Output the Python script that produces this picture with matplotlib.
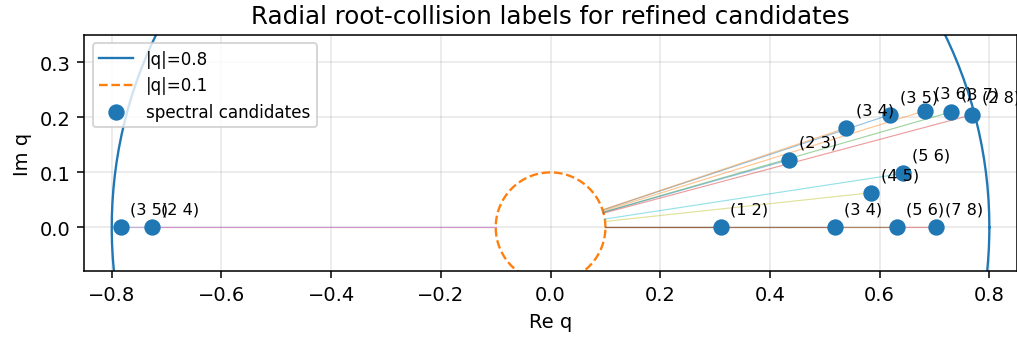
import numpy as np
import matplotlib
matplotlib.use("Agg")
import matplotlib.pyplot as plt

# candidate roots
re_vals = [0.619, 0.682, 0.730, 0.769, -0.784, 0.310, -0.727, 0.518,
           0.585, 0.642, 0.435, 0.539, 0.631, 0.702]
im_vals = [0.205, 0.212, 0.210, 0.205, 0.0, 0.0, 0.0, 0.0,
           0.063, 0.098, 0.123, 0.181, 0.0, 0.0]
labels = ["(3 5)", "(3 6)", "(3 7)", "(2 8)", "(3 5)", "(1 2)", "(2 4)", "(3 4)",
          "(4 5)", "(5 6)", "(2 3)", "(3 4)", "(5 6)", "(7 8)"]
r_outer = 0.8
r_inner = 0.1

fig = plt.figure(figsize=(1017 / 140, 341 / 140), dpi=140)
ax = fig.add_axes([84.3 / 1017, (341 - 272.3) / 341, 932.5 / 1017, 236.3 / 341])

t = np.linspace(0, 2 * np.pi, 400)
ax.plot(r_outer * np.cos(t), r_outer * np.sin(t), color="C0", lw=1.2, label="|q|=0.8")
ax.plot(r_inner * np.cos(t), r_inner * np.sin(t), color="C1", lw=1.2, ls="--", label="|q|=0.1")

# radial lines from the inner circle out to each candidate
for i, (x, y) in enumerate(zip(re_vals, im_vals)):
    ang = np.arctan2(y, x)
    ax.plot([r_inner * np.cos(ang), x], [r_inner * np.sin(ang), y],
            color="C%d" % (i % 10), lw=0.6, alpha=0.45)

ax.scatter(re_vals, im_vals, s=55, color="C0", zorder=3, label="spectral candidates")
for x, y, lab in zip(re_vals, im_vals, labels):
    ax.annotate(lab, (x, y), xytext=(5, 7), textcoords="offset points", fontsize=8.3)

ax.set_xlim(-0.85, 0.85)
ax.set_ylim(-0.08, 0.35)
ax.grid(True, alpha=0.3)
ax.set_xlabel("Re q")
ax.set_ylabel("Im q")
ax.set_title("Radial root-collision labels for refined candidates", fontsize=12.6)
ax.legend(loc="upper left", fontsize=8.6)

fig.savefig("out.png", dpi=140)
